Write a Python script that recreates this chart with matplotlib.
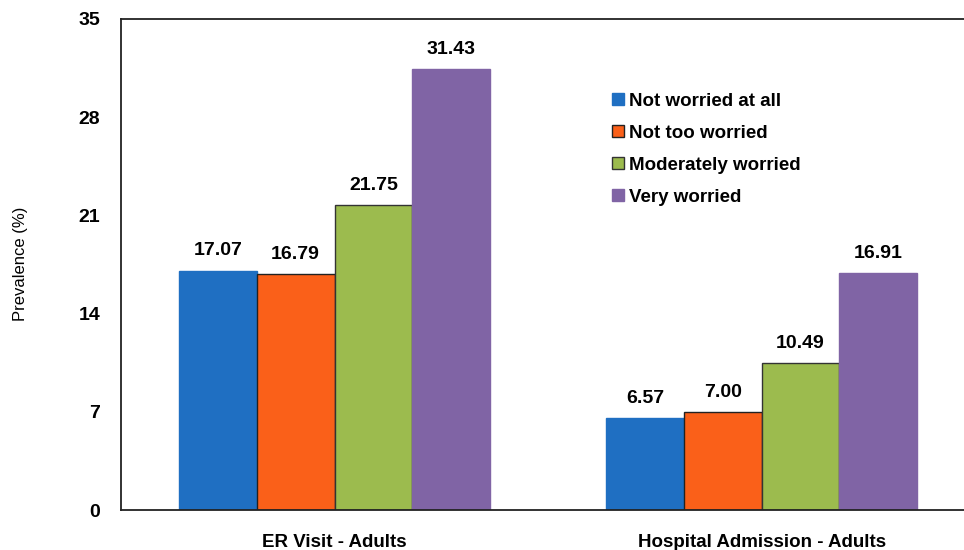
import numpy as np
import matplotlib.pyplot as plt

plt.rcParams['font.family'] = ['Liberation Sans', 'DejaVu Sans']

# Data
groups = ["ER Visit - Adults", "Hospital Admission - Adults"]
series = ["Not worried at all", "Not too worried", "Moderately worried", "Very worried"]
not_worried = [17.07, 6.57]
not_too = [16.79, 7.00]
moderately = [21.75, 10.49]
very = [31.43, 16.91]
yticks = [0, 7, 14, 21, 28, 35]

values = [not_worried, not_too, moderately, very]
colors = ['#1f6fc2', '#fa6019', '#9cbb4e', '#8064a5']
edges = ['#1f6fc2', '#222222', '#333333', '#8064a5']

fig = plt.figure(figsize=(9.64, 5.5), dpi=100)
ax = fig.add_axes([0.1255, 0.0727, 0.8745, 0.8928])

x = np.arange(len(groups))
w = 0.182
for i, vals in enumerate(values):
    pos = x + (i - 1.5) * w
    bars = ax.bar(pos, vals, w, color=colors[i], edgecolor=edges[i],
                  linewidth=1.0, label=series[i], zorder=2)
    for b, v in zip(bars, vals):
        ax.text(b.get_x() + b.get_width() / 2, v + 0.8, f"{v:.2f}",
                ha='center', va='bottom', fontsize=14, fontweight='bold')

ax.set_xlim(-0.5, 1.474)
ax.set_ylim(0, 35)
ax.set_yticks(yticks)
ax.set_xticks(x)
ax.set_xticklabels(groups, fontsize=13.5, fontweight='bold')
ax.tick_params(axis='x', length=0, pad=17)
ax.tick_params(axis='y', length=0, pad=15, labelsize=14)
for lab in ax.get_yticklabels():
    lab.set_fontweight('bold')

ax.spines['right'].set_visible(False)
for s in ['left', 'top', 'bottom']:
    ax.spines[s].set_linewidth(1.3)
    ax.spines[s].set_color('#222222')

fig.text(0.021, 0.52, "Prevalence (%)", rotation=90, ha='center', va='center',
         fontsize=12)

ax.legend(loc='upper left', bbox_to_anchor=(0.617, 0.862), bbox_transform=fig.transFigure,
          frameon=False, prop={'weight': 'bold', 'size': 13.5},
          handlelength=0.65, handleheight=0.65, handletextpad=0.3, labelspacing=0.8)

fig.savefig("out.png", dpi=100)
